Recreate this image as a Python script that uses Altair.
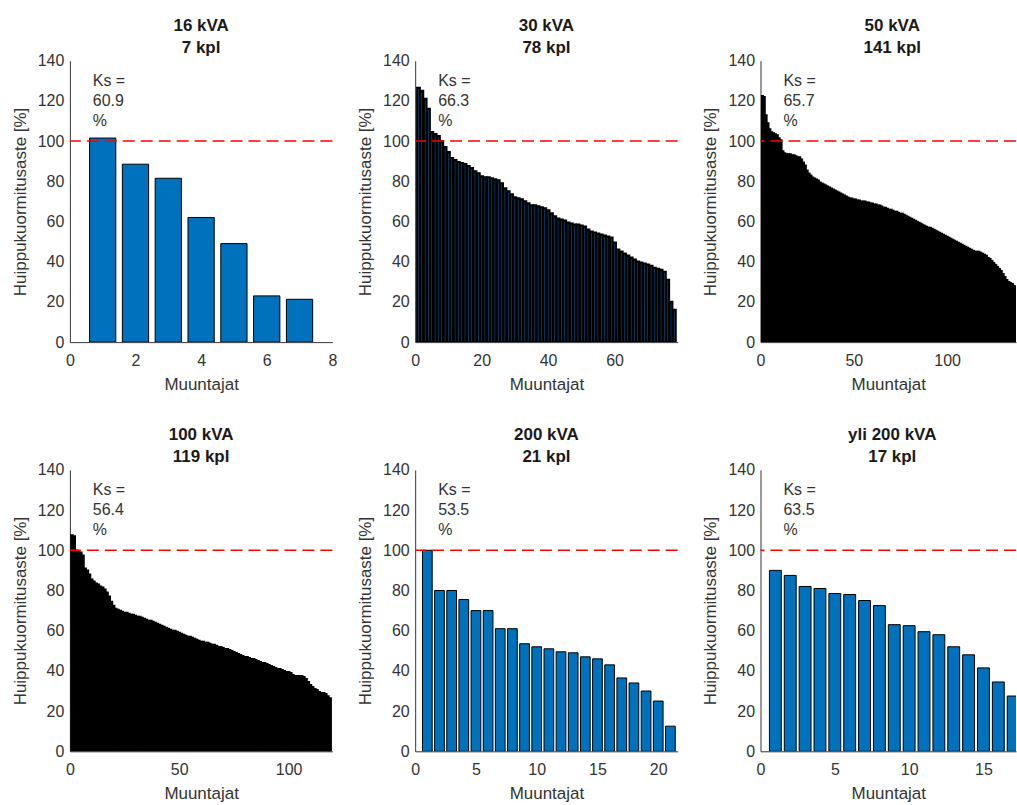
import altair as alt
import pandas as pd

# Transformer size classes, unit counts and the Ks figure shown in each panel
titles = ["16 kVA", "30 kVA", "50 kVA", "100 kVA", "200 kVA", "yli 200 kVA"]
counts = [7, 78, 141, 119, 21, 17]
ks_values = ["60.9", "66.3", "65.7", "56.4", "53.5", "63.5"]

# Peak load ratio of each transformer [%], sorted in descending order
load_16 = [101.5, 88.5, 81.5, 62, 49, 23, 21.3]

load_30 = [
    126.5, 125, 121, 116, 104.5, 103.5, 102.5, 100, 97, 94.5,
    91.5, 90.5, 89.5, 89, 88.5, 87.5, 86.5, 85, 84, 82.5,
    82, 82, 81.5, 81, 80.5, 79, 76.5, 75, 73.5, 72,
    71.5, 71, 70, 69, 68, 68, 67.5, 67, 66.5, 65.5,
    64, 62.5, 61.5, 61, 60.5, 59.5, 59, 58.5, 58.5, 58,
    57.5, 56, 55, 54.5, 54, 53.5, 53, 52.5, 52, 49.5,
    46, 45, 44, 43, 42, 41, 40, 39.5, 39, 38.5,
    38, 37, 36.5, 36, 35, 31, 20, 16,
]

load_50 = [
    122.5, 122, 113, 109, 106, 104.5, 104, 103.5, 103, 101.5,
    100.5, 95, 94, 93.5, 93.5, 93.5, 93, 93, 92.5, 92,
    92, 91, 89.5, 88, 85.5, 84, 83, 82, 81.5, 81,
    80.5, 79.5, 79, 78.5, 78, 77.5, 77, 76.5, 76, 75.5,
    75, 74.5, 74, 73.5, 73, 72.5, 72, 71.5, 71.5, 71,
    71, 70.5, 70.5, 70, 70, 70, 69.5, 69.5, 69, 69,
    68.5, 68.5, 68, 68, 67.5, 67, 67, 66.5, 66, 66,
    65.5, 65, 65, 64.5, 64, 64, 63.5, 63, 62.5, 62,
    61.5, 61, 60.5, 60, 59.5, 59, 58.5, 58, 57.5, 57,
    57, 56.5, 56, 55.5, 55, 54.5, 54, 53.5, 53, 52.5,
    52, 51.5, 51, 50.5, 50, 49.5, 49, 48.5, 48, 47.5,
    47, 46.5, 46, 45.5, 45, 45, 45, 44.5, 44, 43.5,
    43, 42, 41.5, 40.5, 39.5, 38.5, 37.5, 36.5, 35.5, 34,
    32.5, 31, 30, 29.5, 29, 28, 27.5, 27, 26, 25,
    24,
]

load_100 = [
    107.5, 107, 100, 99.5, 99, 97.5, 91, 90, 88, 85.5,
    84.5, 83.5, 83, 82, 81.5, 80.5, 79, 77, 74.5, 72.5,
    71, 70.5, 70, 69.5, 69, 69, 68.5, 68, 68, 67.5,
    67, 67, 66.5, 66, 65.5, 65, 65, 64.5, 64, 63.5,
    63, 62.5, 62, 61.5, 61, 60.5, 60, 60, 59.5, 59,
    58.5, 58, 57.5, 57, 57, 56.5, 56, 55.5, 55, 54.5,
    54.5, 54, 54, 53.5, 53, 53, 52.5, 52, 52, 51.5,
    51, 51, 50.5, 50, 49.5, 49, 48.5, 48, 47.5, 47,
    47, 46.5, 46, 46, 45.5, 45, 44.5, 44, 44, 43.5,
    43, 42.5, 42, 41.5, 41, 41, 40.5, 40, 39.5, 39.5,
    39, 38, 37.5, 37.5, 37.5, 37.5, 37, 36, 34.5, 33,
    32, 31, 30.5, 29.5, 29, 29, 28.5, 27.5, 26.5,
]

load_200 = [
    100, 80, 80, 75.5, 70, 70, 61, 61, 53.5, 52,
    51, 49.5, 49, 47, 46, 43, 36.5, 34, 30, 25,
    12.5,
]

load_over_200 = [
    90, 87.5, 82, 81, 78.5, 78, 75, 72.5, 63, 62.5,
    59.5, 58, 52, 48, 41.5, 34.5, 27.5,
]

series = [load_16, load_30, load_50, load_100, load_200, load_over_200]

# Visible x range and tick values of each panel
x_max = [8, 79, 136.9, 120, 21.6, 17.19]
x_ticks = [
    [0, 2, 4, 6, 8],
    [0, 20, 40, 60],
    [0, 50, 100],
    [0, 50, 100],
    [0, 5, 10, 15, 20],
    [0, 5, 10, 15],
]
panel_widths = [263, 263, 256, 263, 263, 256]
title_dx = [0, 0, 4, 0, 0, 4]
# Bar outline widths: the dense panels end up almost solid black
edge_widths = [1, 2.2, 1.6, 1.8, 1, 1]

FONT = "Liberation Sans"
TEXT = "#333333"
BAR = "#0072BD"


def panel(i):
    vals = series[i]
    df = pd.DataFrame({"n": list(range(1, len(vals) + 1)), "v": vals})

    bars = (
        alt.Chart(df)
        .transform_calculate(x0="datum.n - 0.4", x1="datum.n + 0.4")
        .mark_bar(fill=BAR, stroke="black", strokeWidth=edge_widths[i], clip=True)
        .encode(
            x=alt.X(
                "x0:Q",
                scale=alt.Scale(domain=[0, x_max[i]], nice=False, zero=False),
                axis=alt.Axis(values=x_ticks[i], title="Muuntajat",
                              labelPadding=10, titlePadding=8,
                              labelFlush=False),
            ),
            x2="x1:Q",
            y=alt.Y(
                "v:Q",
                scale=alt.Scale(domain=[0, 140], nice=False),
                axis=alt.Axis(values=list(range(0, 141, 20)),
                              title="Huippukuormitusaste [%]",
                              labelPadding=6, titlePadding=8,
                              labelFlush=False),
            ),
            y2=alt.datum(0),
        )
    )

    limit = (
        alt.Chart(pd.DataFrame({"v": [100]}))
        .mark_rule(color="#FF0000", strokeDash=[12, 6], strokeWidth=1.5)
        .encode(y="v:Q")
    )

    note = (
        alt.Chart(pd.DataFrame({"v": [130], "t": [f"Ks =\n{ks_values[i]}\n%"]}))
        .mark_text(align="left", baseline="middle", lineBreak="\n",
                   lineHeight=20, fontSize=16, font=FONT, color=TEXT)
        .encode(x=alt.value(23), y="v:Q", text="t:N")
    )

    return alt.layer(bars, limit, note).properties(
        width=panel_widths[i],
        height=282,
        title=alt.TitleParams(
            text=[titles[i], f"{counts[i]} kpl"],
            fontSize=17,
            fontWeight="bold",
            font=FONT,
            color="#1a1a1a",
            anchor="middle",
            frame="group",
            lineHeight=22,
            offset=-4,
            dx=title_dx[i],
        ),
    )


chart = (
    alt.concat(*[panel(i) for i in range(6)], columns=3,
               spacing={"row": 128, "column": 83}, bounds="flush")
    .properties(padding={"left": 11, "top": 16, "right": 0, "bottom": 0})
    .configure_view(stroke=None)
    .configure_axis(
        labelFont=FONT,
        labelFontSize=16,
        labelColor=TEXT,
        titleFont=FONT,
        titleFontSize=17,
        titleFontWeight="normal",
        titleColor=TEXT,
        domainColor=TEXT,
        domainWidth=1,
        ticks=False,
        grid=False,
    )
)

chart.save("out.html", embed_options={"renderer": "svg", "actions": False})
